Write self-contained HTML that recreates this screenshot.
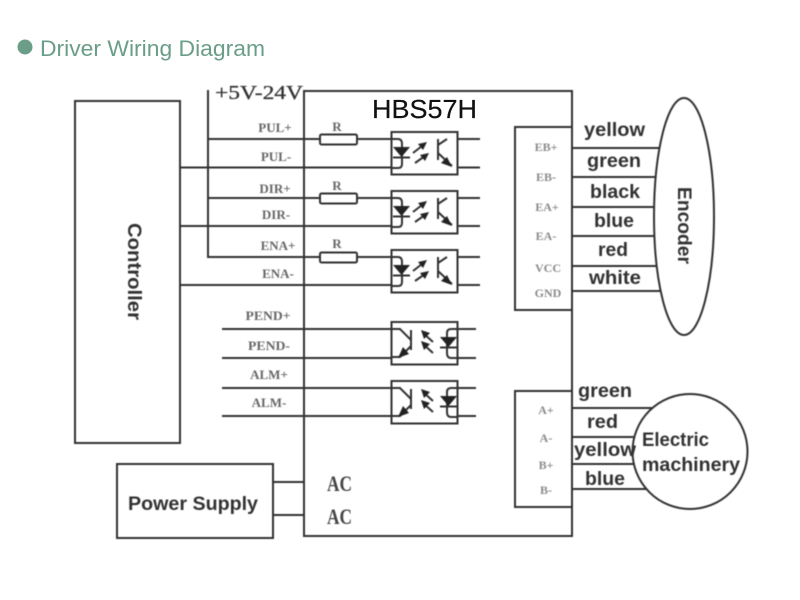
<!DOCTYPE html>
<html>
<head>
<meta charset="utf-8">
<style>
html,body{margin:0;padding:0;background:#fff;width:800px;height:600px;overflow:hidden}
svg{display:block}
.w{fill:none;stroke:#333;stroke-width:2}
.l{font-family:"Liberation Serif",serif;font-size:13px;fill:#666;text-anchor:middle;font-weight:bold}
.g{font-family:"Liberation Serif",serif;font-size:12px;fill:#8a8a8a;text-anchor:middle;font-weight:bold}
.b{font-family:"Liberation Sans",sans-serif;font-size:19px;font-weight:bold;fill:#333}
.s{font-family:"Liberation Serif",serif;font-size:22px;fill:#444;font-weight:bold}
</style>
</head>
<body>
<svg width="800" height="600" viewBox="0 0 800 600" xmlns="http://www.w3.org/2000/svg">
<defs>
<filter id="bl" x="-5%" y="-5%" width="110%" height="110%"><feGaussianBlur stdDeviation="0.5"/></filter>
<g id="inp">
  <rect x="0.5" y="0" width="66" height="42.5" class="w"/>
  <path d="M0 7H7Q11 7 11 12V32Q11 36 7 36H0" class="w" stroke-width="1.6"/>
  <path d="M2 15H19L10.5 25Z" fill="#222"/>
  <path d="M2 25.500H19" class="w"/>
  <path d="M22 21L31 14M24 31L34 24" class="w"/>
  <path d="M36 10L27 12L32 18ZM38 21L29 23L34 29Z" fill="#222"/>
  <path d="M47 7V28" class="w" stroke-width="2.500"/>
  <path d="M47 13L56 7M47 21L61 34" class="w"/>
  <path d="M61 35L50 31L56 25Z" fill="#222"/>
</g>
<g id="out">
  <rect x="0.5" y="0" width="66" height="42.500" class="w"/>
  <path d="M0 7H9L20 18M20 24L9 35H0" class="w"/>
  <path d="M20 8V28" class="w" stroke-width="2.500"/>
  <path d="M7 36L18 32L12 25Z" fill="#222"/>
  <path d="M32 11L42 20M32 22L42 31" class="w"/>
  <path d="M30 8L39 11L33 17ZM30 19L39 22L33 28Z" fill="#222"/>
  <path d="M67 7H60Q56 7 56 11V31Q56 36 60 36H67" class="w"/>
  <path d="M49 15H66L57.500 25Z" fill="#222"/>
  <path d="M49 25.500H66" class="w"/>
</g>
</defs>

<circle cx="25" cy="47" r="7.500" fill="#6a9e88"/>
<text x="40" y="56" font-family="'Liberation Sans',sans-serif" font-size="22" fill="#6a9e88" textLength="225" lengthAdjust="spacingAndGlyphs">Driver Wiring Diagram</text>

<g filter="url(#bl)">
  <!-- main boxes -->
  <rect x="304" y="91" width="268" height="445" class="w"/>
  <rect x="75" y="101" width="105" height="342" class="w"/>
  <rect x="117" y="464" width="156" height="74" class="w"/>
  <path d="M572 127H515V310H572M572 391H515V507H572" class="w"/>

  <!-- supply rail -->
  <path d="M208 90V258" class="w"/>

  <!-- signal wires -->
  <path d="M208 139H320M357 139H392M180 167.500H392M208 198H320M357 198H392M180 226H392M208 257H320M357 257H392M180 285H392" class="w"/>
  <path d="M458 139H480M458 167.500H480M458 198H480M458 226H480M458 257H480M458 285H480" class="w"/>
  <path d="M222 329H392M222 358H392M222 388H392M222 416H392M458 329H476M458 358H476M458 388H476M458 416H476" class="w"/>
  <path d="M273 482H304M273 515H304" class="w"/>

  <!-- resistors -->
  <rect x="320" y="134.500" width="37" height="10" rx="1.500" class="w"/>
  <rect x="320" y="193.500" width="37" height="10" rx="1.500" class="w"/>
  <rect x="320" y="252.500" width="37" height="10" rx="1.500" class="w"/>

  <!-- optocouplers -->
  <use href="#inp" x="391" y="132"/>
  <use href="#inp" x="391" y="191"/>
  <use href="#inp" x="391" y="250"/>
  <use href="#out" x="391" y="322"/>
  <use href="#out" x="391" y="381"/>

  <!-- encoder -->
  <ellipse cx="684" cy="216.500" rx="30" ry="118.500" class="w"/>
  <path d="M572 148H660M572 177H656M572 207H654M572 236H655M572 266H657M572 291H661" class="w"/>

  <!-- motor -->
  <circle cx="690" cy="451.500" r="57.500" class="w"/>
  <path d="M572 408H652M572 437H634M572 464H634M572 489H647" class="w"/>

  <!-- labels -->
  <text x="215" y="99" font-family="'Liberation Serif',serif" font-size="20" fill="#333" stroke="#333" stroke-width="0.3" textLength="88" lengthAdjust="spacingAndGlyphs">+5V-24V</text>
  <text class="l" x="275" y="132">PUL+</text>
  <text class="l" x="276" y="161">PUL-</text>
  <text class="l" x="275" y="193">DIR+</text>
  <text class="l" x="276" y="219">DIR-</text>
  <text class="l" x="278" y="250">ENA+</text>
  <text class="l" x="278" y="278">ENA-</text>
  <text class="l" x="268" y="320" textLength="45" lengthAdjust="spacingAndGlyphs">PEND+</text>
  <text class="l" x="269" y="350" textLength="42" lengthAdjust="spacingAndGlyphs">PEND-</text>
  <text class="l" x="269" y="379">ALM+</text>
  <text class="l" x="269" y="407">ALM-</text>
  <text class="l" x="337" y="131">R</text>
  <text class="l" x="337" y="190">R</text>
  <text class="l" x="337" y="248">R</text>

  <text class="g" x="546" y="151">EB+</text>
  <text class="g" x="546" y="181">EB-</text>
  <text class="g" x="547" y="211">EA+</text>
  <text class="g" x="546" y="240">EA-</text>
  <text class="g" x="548" y="272">VCC</text>
  <text class="g" x="548" y="297">GND</text>
  <text class="g" x="546" y="414">A+</text>
  <text class="g" x="546" y="442">A-</text>
  <text class="g" x="546" y="469">B+</text>
  <text class="g" x="546" y="494">B-</text>

  <text class="b" x="584" y="136" textLength="61" lengthAdjust="spacingAndGlyphs">yellow</text>
  <text class="b" x="587" y="167" textLength="54" lengthAdjust="spacingAndGlyphs">green</text>
  <text class="b" x="590" y="198" textLength="50" lengthAdjust="spacingAndGlyphs">black</text>
  <text class="b" x="594" y="227" textLength="40" lengthAdjust="spacingAndGlyphs">blue</text>
  <text class="b" x="598" y="256" textLength="30" lengthAdjust="spacingAndGlyphs">red</text>
  <text class="b" x="589" y="284" textLength="52" lengthAdjust="spacingAndGlyphs">white</text>

  <text class="b" x="578" y="397" textLength="54" lengthAdjust="spacingAndGlyphs">green</text>
  <text class="b" x="587" y="428" textLength="31" lengthAdjust="spacingAndGlyphs">red</text>
  <text class="b" x="574" y="456" textLength="62" lengthAdjust="spacingAndGlyphs">yellow</text>
  <text class="b" x="585" y="485" textLength="40" lengthAdjust="spacingAndGlyphs">blue</text>

  <text class="b" x="642" y="446" textLength="67" lengthAdjust="spacingAndGlyphs">Electric</text>
  <text class="b" x="642" y="471" textLength="98" lengthAdjust="spacingAndGlyphs">machinery</text>
  <text class="b" transform="translate(678 187) rotate(90)" textLength="77" lengthAdjust="spacingAndGlyphs">Encoder</text>
  <text class="b" transform="translate(128 223) rotate(90)" textLength="97" lengthAdjust="spacingAndGlyphs">Controller</text>
  <text class="b" x="128" y="510" textLength="130" lengthAdjust="spacingAndGlyphs">Power Supply</text>

  <text class="s" x="327" y="491" textLength="25" lengthAdjust="spacingAndGlyphs">AC</text>
  <text class="s" x="327" y="524" textLength="25" lengthAdjust="spacingAndGlyphs">AC</text>
</g>

<text x="372" y="118" font-family="'Liberation Sans',sans-serif" font-size="26" fill="#111" stroke="#111" stroke-width="0.2" textLength="105" lengthAdjust="spacingAndGlyphs">HBS57H</text>
</svg>
</body>
</html>
